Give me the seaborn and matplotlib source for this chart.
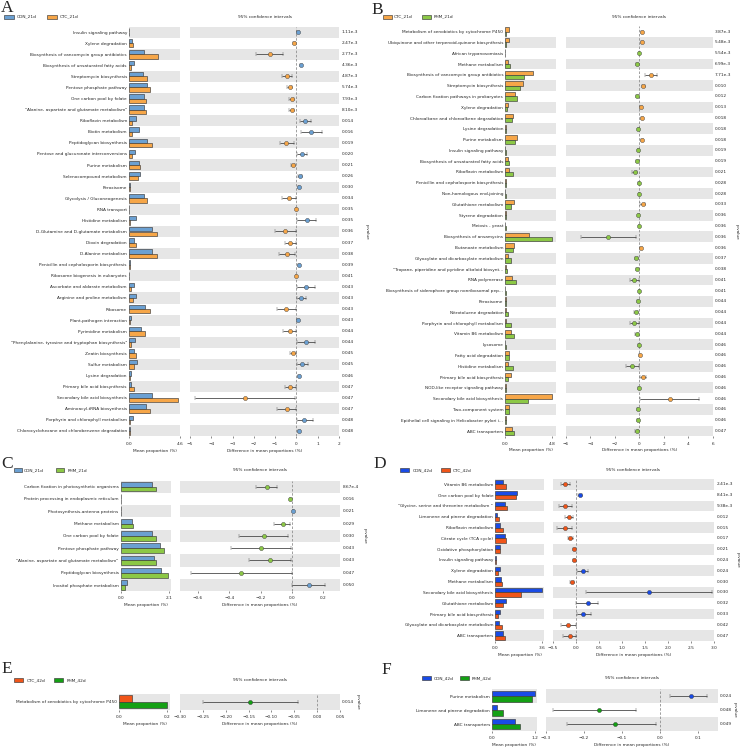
import numpy as np
import pandas as pd
import matplotlib
matplotlib.use('Agg')
import matplotlib.pyplot as plt
import matplotlib.transforms as mtrans
from matplotlib.patches import Rectangle
import seaborn as sns

# ---------------- DATA ----------------
# Panel A: CON_21d vs CTC_21d
a_cats = ['Insulin signaling pathway', 'Xylene degradation', 'Biosynthesis of vancomycin group antibiotics',
          'Biosynthesis of unsaturated fatty acids', 'Streptomycin biosynthesis', 'Pentose phosphate pathway',
          'One carbon pool by folate', '"Alanine, aspartate and glutamate metabolism"', 'Riboflavin metabolism',
          'Biotin metabolism', 'Peptidoglycan biosynthesis', 'Pentose and glucuronate interconversions',
          'Purine metabolism', 'Selenocompound metabolism', 'Peroxisome', 'Glycolysis / Gluconeogenesis',
          'RNA transport', 'Histidine metabolism', 'D-Glutamine and D-glutamate metabolism', 'Dioxin degradation',
          'D-Alanine metabolism', 'Penicillin and cephalosporin biosynthesis', 'Ribosome biogenesis in eukaryotes',
          'Ascorbate and aldarate metabolism', 'Arginine and proline metabolism', 'Ribosome',
          'Plant-pathogen interaction', 'Pyrimidine metabolism',
          '"Phenylalanine, tyrosine and tryptophan biosynthesis"', 'Zeatin biosynthesis', 'Sulfur metabolism',
          'Lysine degradation', 'Primary bile acid biosynthesis', 'Secondary bile acid biosynthesis',
          'Aminoacyl-tRNA biosynthesis', 'Porphyrin and chlorophyll metabolism',
          'Chlorocyclohexane and chlorobenzene degradation']
a_con = [0.02, 0.24, 1.38, 0.42, 1.23, 1.65, 1.32, 1.38, 0.66, 0.93, 1.65, 0.57, 0.87, 1.02, 0.12, 1.32, 0.03,
         0.60, 2.04, 0.42, 2.10, 0.12, 0.03, 0.48, 0.60, 1.47, 0.18, 1.11, 0.57, 0.48, 0.75, 0.18, 0.21, 2.10,
         1.56, 0.39, 0.09]
a_ctc = [0.02, 0.33, 2.61, 0.21, 1.65, 1.92, 1.56, 1.56, 0.30, 0.30, 2.10, 0.30, 1.02, 0.84, 0.09, 1.65, 0.04,
         0.12, 2.55, 0.66, 2.55, 0.08, 0.03, 0.18, 0.39, 1.92, 0.12, 1.47, 0.15, 0.60, 0.42, 0.09, 0.48, 4.38,
         1.92, 0.06, 0.06]
a_diff = [0.07, -0.13, -1.26, 0.21, -0.45, -0.31, -0.23, -0.23, 0.40, 0.70, -0.48, 0.27, -0.16, 0.16, 0.10,
          -0.35, -0.02, 0.49, -0.53, -0.31, -0.45, 0.13, -0.02, 0.45, 0.21, -0.48, 0.09, -0.31, 0.43, -0.15,
          0.27, 0.12, -0.28, -2.42, -0.45, 0.34, 0.12]
a_lo = [0.04, -0.18, -1.90, 0.15, -0.67, -0.42, -0.33, -0.33, 0.18, 0.21, -0.79, 0.01, -0.25, 0.08, 0.06,
        -0.67, -0.04, 0.05, -1.01, -0.54, -0.82, 0.07, -0.03, 0.01, 0.04, -0.93, 0.05, -0.62, 0.01, -0.31,
        0.01, 0.06, -0.53, -4.78, -0.89, 0.01, 0.06]
a_hi = [0.10, -0.08, -0.62, 0.27, -0.21, -0.20, -0.12, -0.13, 0.68, 1.21, -0.10, 0.49, -0.05, 0.25, 0.13,
        -0.04, -0.01, 0.90, -0.04, -0.04, -0.07, 0.19, -0.01, 0.87, 0.43, -0.02, 0.13, -0.02, 0.87, -0.01,
        0.55, 0.18, -0.02, -0.06, -0.02, 0.77, 0.18]
a_p = ['1.11e-3', '2.47e-3', '2.77e-3', '4.36e-3', '4.87e-3', '5.74e-3', '7.93e-3', '8.10e-3', '0.014', '0.016',
       '0.019', '0.020', '0.021', '0.026', '0.030', '0.034', '0.035', '0.035', '0.036', '0.037', '0.038',
       '0.039', '0.041', '0.043', '0.043', '0.043', '0.043', '0.044', '0.044', '0.045', '0.045', '0.046',
       '0.047', '0.047', '0.047', '0.048', '0.048']
a_bar_ticks = [0.0, 4.6]
a_ci_ticks = [-5, -4, -3, -2, -1, 0, 1, 2]

# Panel B: CTC_21d vs PHM_21d
b_cats = ['Metabolism of xenobiotics by cytochrome P450', 'Ubiquinone and other terpenoid-quinone biosynthesis',
          'African trypanosomiasis', 'Methane metabolism', 'Biosynthesis of vancomycin group antibiotics',
          'Streptomycin biosynthesis', 'Carbon fixation pathways in prokaryotes', 'Xylene degradation',
          'Chloroalkane and chloroalkene degradation', 'Lysine degradation', 'Purine metabolism',
          'Insulin signaling pathway', 'Biosynthesis of unsaturated fatty acids', 'Riboflavin metabolism',
          'Penicillin and cephalosporin biosynthesis', 'Non-homologous end-joining', 'Glutathione metabolism',
          'Styrene degradation', 'Meiosis - yeast', 'Biosynthesis of ansamycins', 'Butanoate metabolism',
          'Glyoxylate and dicarboxylate metabolism', '"Tropane, piperidine and pyridine alkaloid biosynt...',
          'RNA polymerase', 'Biosynthesis of siderophore group nonribosomal pep...', 'Peroxisome',
          'Nitrotoluene degradation', 'Porphyrin and chlorophyll metabolism', 'Vitamin B6 metabolism',
          'Lysosome', 'Fatty acid degradation', 'Histidine metabolism', 'Primary bile acid biosynthesis',
          'NOD-like receptor signaling pathway', 'Secondary bile acid biosynthesis', 'Two-component system',
          'Epithelial cell signaling in Helicobacter pylori i...', 'ABC transporters']
b_ctc = [0.34, 0.34, 0.02, 0.30, 2.86, 1.80, 0.95, 0.30, 0.82, 0.08, 1.16, 0.02, 0.27, 0.34, 0.03, 0.02, 0.88,
         0.06, 0.02, 2.38, 0.88, 0.30, 0.12, 0.65, 0.02, 0.08, 0.10, 0.10, 0.61, 0.02, 0.41, 0.24, 0.54, 0.03,
         4.80, 0.34, 0.05, 0.65]
b_phm = [0.08, 0.10, 0.02, 0.50, 1.87, 1.50, 1.16, 0.17, 0.65, 0.10, 0.95, 0.03, 0.37, 0.75, 0.04, 0.03, 0.61,
         0.07, 0.03, 4.75, 0.75, 0.54, 0.20, 1.12, 0.03, 0.10, 0.30, 0.54, 0.85, 0.03, 0.37, 0.82, 0.24, 0.04,
         2.28, 0.41, 0.06, 0.85]
b_diff = [0.25, 0.19, -0.03, -0.19, 0.97, 0.33, -0.19, 0.11, 0.19, -0.08, 0.19, -0.11, -0.19, -0.39, -0.06,
          -0.03, 0.28, -0.08, -0.03, -2.54, 0.14, -0.25, -0.22, -0.44, -0.03, -0.11, -0.30, -0.44, -0.22, -0.06,
          0.03, -0.61, 0.30, -0.06, 2.49, -0.14, -0.14, -0.22]
b_lo = [0.17, 0.11, -0.05, -0.27, 0.50, 0.22, -0.27, 0.04, 0.11, -0.13, 0.11, -0.15, -0.27, -0.61, -0.09, -0.05,
        0.06, -0.12, -0.05, -4.75, 0.07, -0.35, -0.30, -0.80, -0.05, -0.17, -0.47, -0.80, -0.32, -0.09, 0.00,
        -1.13, 0.08, -0.09, 0.06, -0.20, -0.20, -0.32]
b_hi = [0.33, 0.27, -0.01, -0.11, 1.41, 0.44, -0.11, 0.18, 0.27, -0.03, 0.27, -0.07, -0.11, -0.17, -0.03, -0.01,
        0.50, -0.04, -0.01, -0.30, 0.21, -0.15, -0.14, -0.06, -0.01, -0.05, -0.11, -0.06, -0.12, -0.03, 0.06,
        -0.06, 0.52, -0.03, 4.89, -0.08, -0.08, -0.12]
b_p = ['3.87e-3', '5.48e-3', '5.54e-3', '6.99e-3', '7.71e-3', '0.010', '0.012', '0.013', '0.018', '0.018',
       '0.018', '0.019', '0.019', '0.021', '0.028', '0.028', '0.033', '0.036', '0.036', '0.036', '0.036',
       '0.037', '0.038', '0.041', '0.041', '0.044', '0.044', '0.044', '0.044', '0.046', '0.046', '0.046',
       '0.046', '0.046', '0.046', '0.046', '0.046', '0.047']
b_bar_ticks = [0.0, 4.8]
b_ci_ticks = [-6, -4, -2, 0, 2, 4, 6]

# Panel C: CON_21d vs PHM_21d
c_cats = ['Carbon fixation in photosynthetic organisms', 'Protein processing in endoplasmic reticulum',
          'Photosynthesis-antenna proteins', 'Methane metabolism', 'One carbon pool by folate',
          'Pentose phosphate pathway', '"Alanine, aspartate and glutamate metabolism"',
          'Peptidoglycan biosynthesis', 'Inositol phosphate metabolism']
c_con = [1.38, 0.03, 0.01, 0.48, 1.38, 1.73, 1.44, 1.76, 0.29]
c_phm = [1.55, 0.03, 0.01, 0.52, 1.56, 1.91, 1.56, 2.07, 0.17]
c_diff = [-0.162, -0.011, 0.006, -0.060, -0.177, -0.198, -0.138, -0.326, 0.106]
c_lo = [-0.230, -0.016, 0.003, -0.115, -0.336, -0.391, -0.272, -0.645, 0.002]
c_hi = [-0.098, -0.006, 0.009, -0.013, -0.023, -0.006, -0.004, -0.002, 0.210]
c_p = ['8.67e-4', '0.016', '0.021', '0.029', '0.030', '0.043', '0.043', '0.047', '0.050']
c_bar_ticks = [0.0, 2.1]
c_ci_ticks = [-0.6, -0.4, -0.2, 0.0, 0.2]

# Panel D: CON_42d vs CTC_42d
d_cats = ['Vitamin B6 metabolism', 'One carbon pool by folate', '"Glycine, serine and threonine metabolism "',
          'Limonene and pinene degradation', 'Riboflavin metabolism', 'Citrate cycle (TCA cycle)',
          'Oxidative phosphorylation', 'Insulin signaling pathway', 'Xylene degradation', 'Methane metabolism',
          'Secondary bile acid biosynthesis', 'Glutathione metabolism', 'Primary bile acid biosynthesis',
          'Glyoxylate and dicarboxylate metabolism', 'ABC transporters']
d_con = [0.59, 1.66, 0.71, 0.13, 0.38, 0.77, 0.33, 0.03, 0.38, 0.41, 3.55, 0.82, 0.38, 0.31, 0.61]
d_ctc = [0.79, 1.56, 0.92, 0.26, 0.61, 0.84, 0.38, 0.04, 0.23, 0.48, 1.97, 0.56, 0.23, 0.48, 0.71]
d_diff = [-0.23, 0.09, -0.23, -0.15, -0.25, -0.12, -0.04, -0.05, 0.15, -0.09, 1.58, 0.25, 0.16, -0.17, -0.14]
d_lo = [-0.33, 0.05, -0.36, -0.23, -0.41, -0.17, -0.06, -0.07, 0.03, -0.13, 0.22, 0.01, 0.02, -0.32, -0.28]
d_hi = [-0.12, 0.14, -0.09, -0.06, -0.09, -0.06, -0.02, -0.03, 0.27, -0.05, 2.95, 0.48, 0.32, -0.01, -0.01]
d_p = ['2.41e-3', '8.41e-3', '9.38e-3', '0.012', '0.015', '0.017', '0.021', '0.024', '0.024', '0.030', '0.030',
       '0.032', '0.033', '0.042', '0.047']
d_bar_ticks = [0.0, 3.6]
d_ci_ticks = [-0.5, 0.0, 0.5, 1.0, 1.5, 2.0, 2.5, 3.0]

# Panel E: CTC_42d vs PHM_42d
e_cats = ['Metabolism of xenobiotics by cytochrome P450']
e_ctc = [0.054]
e_phm = [0.197]
e_diff = [-0.146]
e_lo = [-0.250]
e_hi = [-0.041]
e_p = ['0.014']
e_bar_ticks = [0.0, 0.2]
e_ci_ticks = [-0.30, -0.25, -0.20, -0.15, -0.10, -0.05, 0.00, 0.05]

# Panel F: CON_42d vs PHM_42d
f_cats = ['Purine metabolism', 'Limonene and pinene degradation', 'ABC transporters']
f_con = [1.19, 0.15, 0.63]
f_phm = [1.12, 0.30, 0.78]
f_diff = [0.080, -0.161, -0.118]
f_lo = [0.026, -0.280, -0.245]
f_hi = [0.124, -0.063, -0.011]
f_p = ['0.024', '0.048', '0.049']
f_bar_ticks = [0.0, 1.2]
f_ci_ticks = [-0.3, -0.2, -0.1, 0.0, 0.1]

# colours
CON21, CTC21, PHM21 = '#6ba0d2', '#f6a648', '#8cc846'
CON42, CTC42, PHM42 = '#194be6', '#f05519', '#14a014'

# ---------------- FIGURE ----------------
sns.set_theme(style='white')
plt.rcParams['font.family'] = ['DejaVu Sans']
W, H = 740, 754
fig = plt.figure(figsize=(7.4, 7.54), dpi=100)
FS = 3.1
BAND = '#e6e6e6'
EDGE = '#3a3a3a'


def rect(x0, y0, x1, y1):
    return [x0 / W, 1 - y1 / H, (x1 - x0) / W, (y1 - y0) / H]


def fmt(v, d):
    s = f'{v:.{d}f}' if d > 0 else f'{v:d}'
    return s.replace('-', '\u2212')


def panel(cats, v1, v2, diff, lo, hi, pv, names, colors, bx, cx, rows, bar_lim, bar_ticks,
          ci_lim, ci_ticks, ci_dec, px, plab, title_y, legend, letter):
    n = len(cats)
    y0, y1 = rows
    axb = fig.add_axes(rect(bx[0], y0, bx[1], y1))
    axc = fig.add_axes(rect(cx[0], y0, cx[1], y1))
    df = pd.DataFrame({'cat': list(cats) * 2,
                       'val': list(v1) + list(v2),
                       'grp': [names[0]] * n + [names[1]] * n})
    sns.barplot(data=df, y='cat', x='val', hue='grp', order=cats, hue_order=names,
                palette=dict(zip(names, colors)), orient='h', ax=axb, errorbar=None,
                edgecolor=EDGE, linewidth=0.45, width=0.78, legend=False, saturation=1)
    for ax in (axb, axc):
        for i in range(n):
            if (n - 1 - i) % 2 == 0:
                ax.axhspan(i - 0.5, i + 0.5, color=BAND, lw=0, zorder=0)
        ax.set_ylim(n - 0.5, -0.5)
        for s in ax.spines.values():
            s.set_visible(False)
        ax.tick_params(axis='x', bottom=True, length=1.6, width=0.4, pad=2.2,
                       labelsize=FS, color='#333333')
        ax.set_facecolor('white')
    axb.set_xlim(0, bar_lim)
    axb.set_xticks(bar_ticks, [fmt(t, 1) for t in bar_ticks])
    axb.set_yticks(range(n), cats)
    axb.tick_params(axis='y', left=False, length=0, pad=1.5, labelsize=FS)
    axb.set_ylabel('')
    axb.set_xlabel('Mean proportion (%)', fontsize=FS, labelpad=2)

    d = np.array(diff)
    l = np.array(lo)
    h = np.array(hi)
    yy = np.arange(n)
    axc.axvline(0, color='#8f8f8f', ls=(0, (3, 2)), lw=0.6, zorder=1)
    for mask, col in ((d > 0, colors[0]), (d <= 0, colors[1])):
        if mask.any():
            axc.errorbar(d[mask], yy[mask], xerr=[d[mask] - l[mask], h[mask] - d[mask]], fmt='o',
                         color=col, ecolor='#4a4a4a', elinewidth=0.6, capsize=1.3, capthick=0.6,
                         markersize=3.0, mec='#3a3a3a', mew=0.3, zorder=3)
    axc.set_xlim(*ci_lim)
    axc.set_xticks(ci_ticks, [fmt(t, ci_dec) for t in ci_ticks])
    axc.set_yticks([])
    axc.set_xlabel('Difference in mean proportions (%)', fontsize=FS, labelpad=2)

    tr = mtrans.blended_transform_factory(fig.transFigure, axc.transData)
    for i, p in enumerate(pv):
        axc.text(px / W, i, p, transform=tr, fontsize=FS, va='center', ha='left')
    fig.text(plab[0] / W, 1 - plab[1] / H, 'p-value', rotation=270, fontsize=FS,
             ha='center', va='center')
    fig.text((cx[0] + cx[1]) / 2 / W, 1 - title_y / H, '95% confidence intervals', fontsize=FS,
             ha='center', va='center')
    ly, items = legend
    for (nm, col), (p0, p1, tx) in zip(zip(names, colors), items):
        fig.add_artist(Rectangle((p0 / W, 1 - (ly + 1.8) / H), (p1 - p0) / W, 3.6 / H,
                                 transform=fig.transFigure, fc=col, ec=EDGE, lw=0.45))
        fig.text(tx / W, 1 - ly / H, nm, fontsize=FS, va='center', ha='left')
    lt, lx, lyy = letter
    fig.text(lx / W, 1 - lyy / H, lt, fontsize=12.5, family='Liberation Serif', va='top', ha='left')


panel(a_cats, a_con, a_ctc, a_diff, a_lo, a_hi, a_p, ['CON_21d', 'CTC_21d'], [CON21, CTC21],
      (129, 180), (190, 339), (26.5, 436.5), 4.6, a_bar_ticks, (-5, 2), a_ci_ticks, 0,
      341.7, (366.5, 231.5), 16.7, (16.7, [(4, 14, 17), (47, 57, 60)]), ('A', 1, 0.5))

panel(b_cats, b_ctc, b_phm, b_diff, b_lo, b_hi, b_p, ['CTC_21d', 'PHM_21d'], [CTC21, PHM21],
      (505.3, 555.7), (566, 712.7), (26.3, 436.4), 5.14, b_bar_ticks, (-6, 6), b_ci_ticks, 0,
      715, (736.7, 231.5), 16.7, (16.7, [(382.7, 391.7, 394), (421.7, 430.7, 433.5)]), ('B', 371, 1.5))

panel(c_cats, c_con, c_phm, c_diff, c_lo, c_hi, c_p, ['CON_21d', 'PHM_21d'], [CON21, PHM21],
      (120.7, 170.7), (180, 340), (480.5, 591.2), 2.19, c_bar_ticks, (-0.715, 0.306), c_ci_ticks, 1,
      343, (365, 536), 470, (470, [(14, 22, 24), (55.7, 63.7, 67.7)]), ('C', 1, 455.5))

panel(d_cats, d_con, d_ctc, d_diff, d_lo, d_hi, d_p, ['CON_42d', 'CTC_42d'], [CON42, CTC42],
      (495.3, 543.7), (553, 714), (478.9, 641.1), 3.7, d_bar_ticks, (-0.5, 3.0), d_ci_ticks, 1,
      716.7, (737.5, 560), 470, (470, [(400, 409, 412.3), (440.7, 449.7, 452.5)]), ('D', 373.5, 456))

panel(e_cats, e_ctc, e_phm, e_diff, e_lo, e_hi, e_p, ['CTC_42d', 'PHM_42d'], [CTC42, PHM42],
      (119.3, 170), (180, 340), (693.7, 710), 0.211, e_bar_ticks, (-0.30, 0.05), e_ci_ticks, 2,
      341.7, (358, 702), 680, (680, [(14, 22.7, 26.7), (54, 63, 66.7)]), ('E', 1, 661))

panel(f_cats, f_con, f_phm, f_diff, f_lo, f_hi, f_p, ['CON_42d', 'PHM_42d'], [CON42, PHM42],
      (492, 536.7), (545.7, 717.7), (689.4, 731), 1.24, f_bar_ticks, (-0.3, 0.151), f_ci_ticks, 1,
      719.7, (735, 710), 678.3, (678.3, [(422.3, 431.3, 433.5), (460, 469, 471.7)]), ('F', 381, 662))

fig.savefig('out.png', dpi=100)
